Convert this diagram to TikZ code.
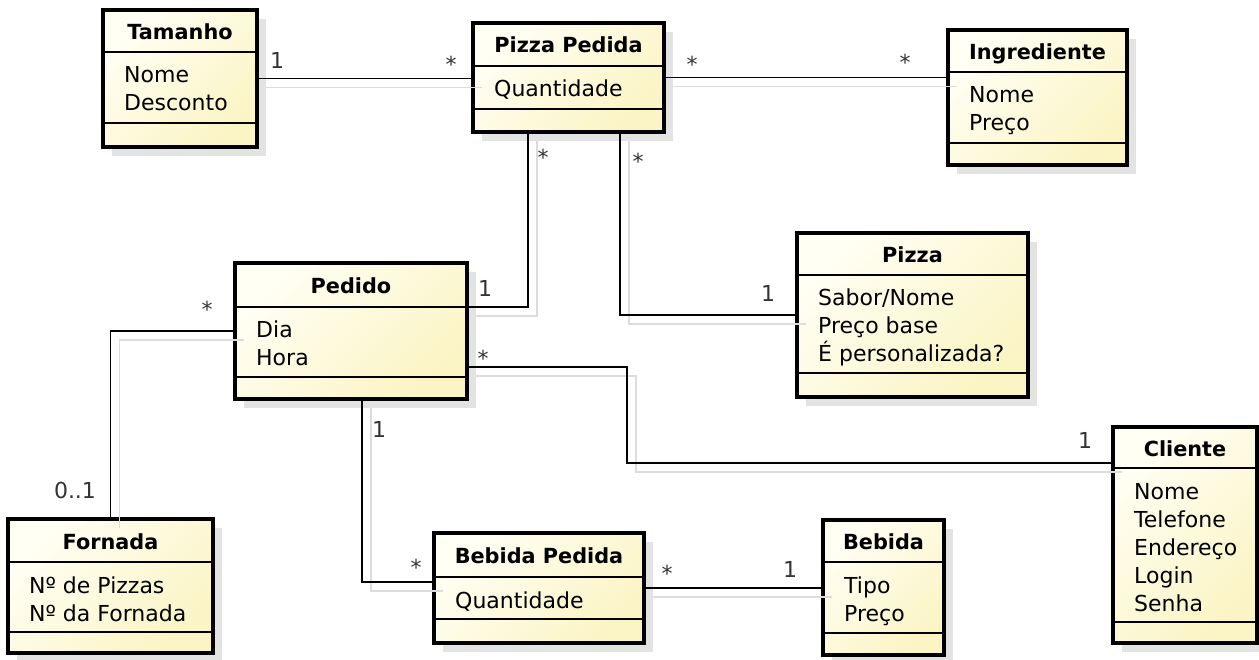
\documentclass[tikz,border=0pt]{standalone}
\usepackage{fontspec}
\setmainfont{DejaVu Sans}
\usetikzlibrary{fit,calc}

\definecolor{umllight}{HTML}{FFFFF4}
\definecolor{umlyellow}{HTML}{FBF4C4}
\definecolor{boxshadow}{HTML}{E3E3E3}
\definecolor{lineshadow}{HTML}{DCDCDC}
\definecolor{multgray}{HTML}{333333}

\tikzset{
  classbox/.style={draw=black,line width=3.8pt,inner sep=0pt,outer sep=0pt,
    top color=umllight,bottom color=umlyellow,shading angle=45},
  classtitle/.style={anchor=base,inner sep=0pt,font=\fontsize{20.8}{25}\selectfont\bfseries},
  classattr/.style={anchor=base west,inner sep=0pt,font=\fontsize{22}{28}\selectfont},
  sepline/.style={line width=1.5pt},
  mult/.style={inner sep=0pt,text=multgray,font=\fontsize{22}{28}\selectfont},
  mstar/.style={mult,yshift=-4pt},
  assoc/.style={line width=1.5pt,
    preaction={draw=lineshadow,line width=1.5pt,transform canvas={shift={(9pt,-9pt)}}}}
}

% name, left, top, right, bottom, first sep, second sep, title, attributes
\newcommand{\umlclass}[9]{%
  \fill[boxshadow] (#2+9,#3+9) rectangle (#4+9,#5+9);
  \path (#2,#3) coordinate (#1-nw) (#4,#5) coordinate (#1-se);
  \node[classbox,fit=(#1-nw)(#1-se)] (#1) {};
  \draw[sepline] (#2,#6) -- (#4,#6) (#2,#7) -- (#4,#7);
  \node[classtitle] (#1-title) at ({(#2+#4)/2},{(#3+#6)/2+8.5}) {#8};
  \foreach \field [count=\i] in {#9}
    \node[classattr] (#1-attr\i) at (#2+21,{#6+31+28*(\i-1)}) {\field};
}

\begin{document}
\begin{tikzpicture}[x=1pt,y=-1pt]
  \useasboundingbox[fill=white] (0,0) rectangle (1259,660);

  \umlclass{tamanho}{103}{10}{257}{147}{52}{123}{Tamanho}{Nome,Desconto}
  \umlclass{pizzapedida}{473}{23}{664}{132}{66}{109}{Pizza Pedida}{Quantidade}
  \umlclass{ingrediente}{948}{30}{1127}{165}{72}{143}{Ingrediente}{Nome,Preço}
  \umlclass{pizza}{797}{233}{1028}{397}{275}{373}{Pizza}{Sabor/Nome,Preço base,É personalizada?}
  \umlclass{pedido}{235}{263}{467}{399}{307}{377}{Pedido}{Dia,Hora}
  \umlclass{cliente}{1113}{427}{1257}{643}{468}{622}{Cliente}{Nome,Telefone,Endereço,Login,Senha}
  \umlclass{fornada}{8}{519}{213}{653}{562}{632}{Fornada}{Nº de Pizzas,Nº da Fornada}
  \umlclass{bebidapedida}{434}{533}{644}{643}{577}{619}{Bebida Pedida}{Quantidade}
  \umlclass{bebida}{823}{520}{944}{655}{562}{633}{Bebida}{Tipo,Preço}

  % associations
  \draw[assoc] (tamanho.east) -- (tamanho.east -| pizzapedida.west);
  \draw[assoc] (pizzapedida.east) -- (pizzapedida.east -| ingrediente.west);
  \draw[assoc] ([xshift=-40.5pt]pizzapedida.south) |- ([yshift=-44pt]pedido.north east);
  \draw[assoc] ([xshift=51.5pt]pizzapedida.south) |- (pizza.west);
  \draw[assoc] ([yshift=-36pt]pedido.east) -- ++(160,0) |- ([yshift=-36pt]cliente.north west);
  \draw[assoc] (pedido.west) -| (fornada.north);
  \draw[assoc] ([xshift=11pt]pedido.south) |- ([yshift=6pt]bebidapedida.west);
  \draw[assoc] (bebidapedida.east) -- (bebidapedida.east -| bebida.west);

  % multiplicities
  \node[mult]  (m-tam)   at (277,60)  {1};
  \node[mstar] (m-pp1)   at (451,60)  {*};
  \node[mstar] (m-pp2)   at (692,60)  {*};
  \node[mstar] (m-ing)   at (905,58)  {*};
  \node[mstar] (m-pp3)   at (543,153) {*};
  \node[mult]  (m-ped1)  at (485,288) {1};
  \node[mstar] (m-pp4)   at (638,157) {*};
  \node[mult]  (m-piz)   at (768,293) {1};
  \node[mstar] (m-ped2)  at (483,354) {*};
  \node[mult]  (m-cli)   at (1085,440) {1};
  \node[mstar] (m-ped3)  at (207,305) {*};
  \node[mult]  (m-for)   at (75,490)  {0..1};
  \node[mult]  (m-ped4)  at (379,429) {1};
  \node[mstar] (m-bp1)   at (416,563) {*};
  \node[mstar] (m-bp2)   at (667,569) {*};
  \node[mult]  (m-beb)   at (790,569) {1};
\end{tikzpicture}
\end{document}
